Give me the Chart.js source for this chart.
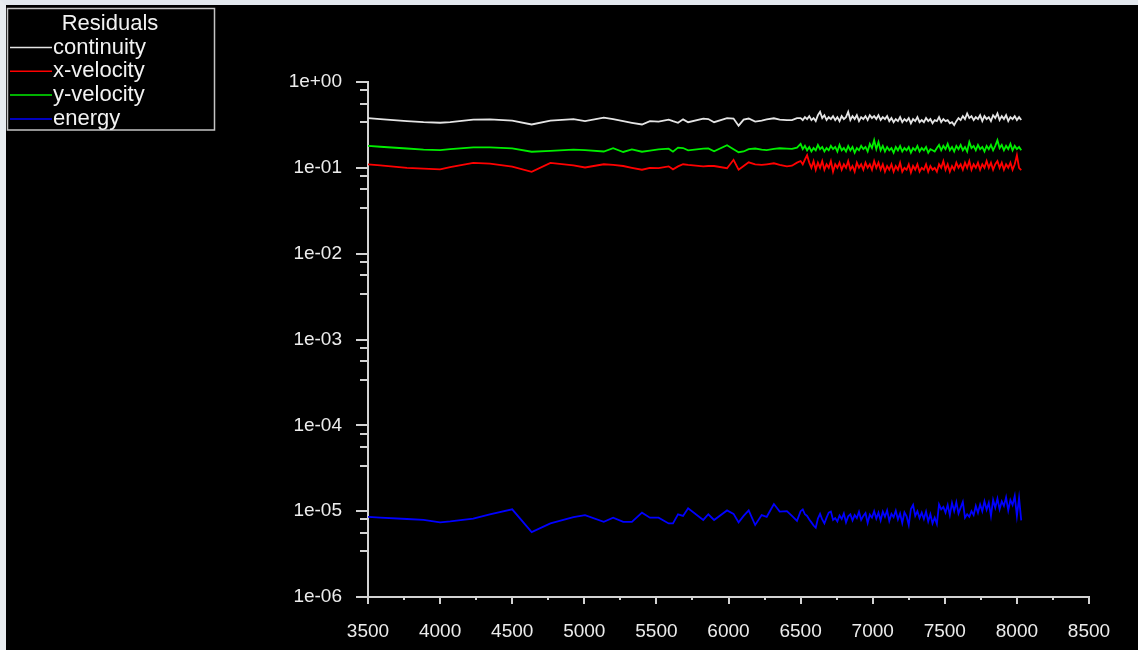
<!DOCTYPE html>
<html>
<head>
<meta charset="utf-8">
<script src="https://cdn.jsdelivr.net/npm/chart.js@4"></script>
<style>
  html, body { margin: 0; padding: 0; background: #000; }
  #frame {
    position: absolute; left: 0; top: 0;
    width: 1132px; height: 645px;
    border-top: 5px solid #e3e8ee;
    border-left: 6px solid #e8ecf0;
    background: #000;
  }
</style>
</head>
<body>
<div id="frame"><canvas id="residuals" width="1132" height="645"></canvas></div>
<script>
// iterations (shared by all residuals)
const iterations = [
  3500, 3585, 3770, 3885, 4000, 4070, 4230, 4345, 4500, 4635,
  4765, 4925, 5005, 5135, 5200, 5270, 5330, 5400, 5455, 5515,
  5585, 5615, 5650, 5685, 5720, 5825, 5860, 5900, 5990, 6035,
  6070, 6105, 6140, 6185, 6230, 6265, 6315, 6355, 6405, 6440,
  6475,
  6500, 6515, 6530, 6545, 6560, 6575, 6590, 6605, 6620, 6635,
  6650, 6665, 6680, 6695, 6710, 6725, 6740, 6755, 6770, 6785,
  6800, 6815, 6830, 6845, 6860, 6875, 6890, 6905, 6920, 6935,
  6950, 6965, 6980, 6995, 7010, 7025, 7040, 7055, 7070, 7085,
  7100, 7115, 7130, 7145, 7160, 7175, 7190, 7205, 7220, 7235,
  7250, 7265, 7280, 7295, 7310, 7325, 7340, 7355, 7370, 7385,
  7400, 7415, 7430, 7445, 7460, 7475, 7490, 7505, 7520, 7535,
  7550, 7565, 7580, 7595, 7610, 7625, 7640, 7655, 7670, 7685,
  7700, 7715, 7730, 7745, 7760, 7775, 7790, 7805, 7820, 7835,
  7850, 7865, 7880, 7895, 7910, 7925, 7940, 7955, 7970, 7985,
  8000, 8015, 8030
];

const continuity = [
  0.38, 0.37, 0.35, 0.34, 0.335, 0.34, 0.365, 0.367, 0.355, 0.32,
  0.355, 0.37, 0.35, 0.385, 0.37, 0.35, 0.335, 0.32, 0.35, 0.345,
  0.365, 0.35, 0.335, 0.367, 0.34, 0.375, 0.37, 0.34, 0.38, 0.375,
  0.31, 0.365, 0.375, 0.345, 0.355, 0.367, 0.378, 0.365, 0.36, 0.36,
  0.38,
  0.38, 0.36, 0.39, 0.37, 0.40, 0.36, 0.38, 0.35, 0.41, 0.45,
  0.38, 0.41, 0.36, 0.39, 0.37, 0.40, 0.36, 0.39, 0.35, 0.40,
  0.37, 0.39, 0.45, 0.36, 0.40, 0.37, 0.41, 0.35, 0.39, 0.37,
  0.40, 0.36, 0.41, 0.38, 0.40, 0.37, 0.41, 0.36, 0.39, 0.37,
  0.40, 0.35, 0.38, 0.34, 0.37, 0.35, 0.39, 0.34, 0.37, 0.35,
  0.38, 0.33, 0.37, 0.35, 0.39, 0.34, 0.36, 0.34, 0.38, 0.35,
  0.37, 0.33, 0.36, 0.35, 0.39, 0.34, 0.37, 0.35, 0.36, 0.33,
  0.34, 0.315, 0.35, 0.38, 0.36, 0.40, 0.37, 0.43, 0.38, 0.40,
  0.36, 0.39, 0.37, 0.41, 0.35, 0.40, 0.37, 0.39, 0.35, 0.41,
  0.38, 0.43, 0.36, 0.40, 0.37, 0.41, 0.35, 0.39, 0.37, 0.40,
  0.36, 0.39, 0.36
];

const xVelocity = [
  0.11, 0.107, 0.1, 0.098, 0.096, 0.102, 0.114, 0.112, 0.103, 0.09,
  0.114, 0.107, 0.101, 0.11, 0.108, 0.105, 0.1, 0.095, 0.1, 0.099,
  0.104, 0.096, 0.104, 0.11, 0.108, 0.104, 0.105, 0.105, 0.099, 0.124,
  0.095, 0.105, 0.116, 0.11, 0.108, 0.11, 0.113, 0.108, 0.104, 0.106,
  0.115,
  0.12, 0.11, 0.125, 0.14, 0.115, 0.10, 0.12, 0.095, 0.115, 0.10,
  0.12, 0.095, 0.11, 0.10, 0.12, 0.09, 0.11, 0.10, 0.115, 0.095,
  0.11, 0.10, 0.12, 0.095, 0.105, 0.09, 0.115, 0.10, 0.11, 0.095,
  0.115, 0.10, 0.11, 0.095, 0.12, 0.10, 0.115, 0.095, 0.11, 0.09,
  0.105, 0.095, 0.11, 0.09, 0.105, 0.095, 0.115, 0.09, 0.10, 0.095,
  0.11, 0.088, 0.105, 0.095, 0.11, 0.09, 0.10, 0.095, 0.11, 0.09,
  0.105, 0.095, 0.10, 0.09, 0.11, 0.10, 0.12, 0.095, 0.11, 0.09,
  0.105, 0.095, 0.115, 0.10, 0.11, 0.095, 0.115, 0.10, 0.12, 0.095,
  0.11, 0.10, 0.115, 0.095, 0.11, 0.10, 0.12, 0.10, 0.115, 0.095,
  0.11, 0.12, 0.10, 0.115, 0.095, 0.11, 0.10, 0.115, 0.095, 0.11,
  0.14, 0.10, 0.094
];

const yVelocity = [
  0.18, 0.176, 0.168, 0.163, 0.161, 0.165, 0.173, 0.173, 0.169, 0.154,
  0.158, 0.163, 0.161, 0.155, 0.169, 0.153, 0.164, 0.154, 0.159, 0.164,
  0.167, 0.154, 0.172, 0.17, 0.16, 0.167, 0.168, 0.156, 0.183, 0.165,
  0.152, 0.155, 0.165, 0.168, 0.163, 0.161, 0.166, 0.169, 0.167, 0.166,
  0.172,
  0.19, 0.165, 0.18, 0.16, 0.175, 0.155, 0.17, 0.16, 0.185, 0.165,
  0.175, 0.155, 0.17, 0.16, 0.18, 0.165, 0.175, 0.155, 0.185, 0.16,
  0.17, 0.155, 0.18, 0.16, 0.175, 0.15, 0.17, 0.16, 0.18, 0.165,
  0.175, 0.155, 0.19, 0.17, 0.21, 0.165, 0.20, 0.16, 0.18, 0.155,
  0.175, 0.16, 0.17, 0.15, 0.175, 0.16, 0.18, 0.155, 0.17, 0.16,
  0.175, 0.15, 0.17, 0.16, 0.18, 0.155, 0.17, 0.16, 0.175, 0.15,
  0.165, 0.16, 0.155, 0.17, 0.185, 0.16, 0.18, 0.165, 0.19, 0.16,
  0.175, 0.155, 0.18, 0.165, 0.185, 0.16, 0.175, 0.155, 0.20, 0.17,
  0.18, 0.16, 0.185, 0.165, 0.175, 0.155, 0.18, 0.165, 0.185, 0.16,
  0.18, 0.21, 0.17, 0.185, 0.16, 0.18, 0.165, 0.19, 0.16, 0.18,
  0.165, 0.175, 0.16
];

const energy = [
  8.6e-6, 8.4e-6, 8.1e-6, 7.9e-6, 7.4e-6, 7.6e-6, 8.2e-6, 9.2e-6, 1.05e-5, 5.7e-6,
  7.2e-6, 8.5e-6, 9.0e-6, 7.5e-6, 8.4e-6, 7.5e-6, 7.5e-6, 9.6e-6, 8.4e-6, 8.4e-6,
  7.2e-6, 7.2e-6, 9.2e-6, 8.8e-6, 1.08e-5, 7.9e-6, 9.2e-6, 7.9e-6, 1.02e-5, 9.3e-6,
  7.4e-6, 8.8e-6, 1.02e-5, 6.9e-6, 9.0e-6, 8.6e-6, 1.21e-5, 9.9e-6, 1.0e-5, 8.8e-6,
  7.7e-6,
  1.0e-5, 1.05e-5, 9.2e-6, 8.8e-6, 8.0e-6, 7.4e-6, 6.8e-6, 6.4e-6, 8.2e-6, 9.3e-6,
  8.0e-6, 7.2e-6, 8.4e-6, 9.6e-6, 9.9e-6, 7.9e-6, 8.3e-6, 7.6e-6, 8.9e-6, 8.1e-6,
  9.4e-6, 7.4e-6, 8.7e-6, 9.2e-6, 7.8e-6, 9.0e-6, 8.3e-6, 9.8e-6, 7.9e-6, 8.8e-6,
  9.5e-6, 7.3e-6, 9.1e-6, 8.4e-6, 1.0e-5, 8.2e-6, 9.6e-6, 7.8e-6, 9.9e-6, 8.6e-6,
  1.02e-5, 7.7e-6, 9.3e-6, 8.5e-6, 1.01e-5, 8.0e-6, 9.4e-6, 7.3e-6, 9.7e-6, 8.7e-6,
  6.9e-6, 1.06e-5, 1.18e-5, 8.8e-6, 1.0e-5, 8.3e-6, 9.6e-6, 8.1e-6, 9.9e-6, 7.6e-6,
  9.2e-6, 7.2e-6, 8.4e-6, 7.1e-6, 1.2e-5, 1.05e-5, 1.12e-5, 9.6e-6, 1.18e-5, 9.0e-6,
  1.25e-5, 1.0e-5, 1.27e-5, 9.4e-6, 1.1e-5, 1.28e-5, 8.4e-6, 9.2e-6, 8.6e-6, 1.0e-5,
  9.0e-6, 1.15e-5, 9.6e-6, 1.2e-5, 1.0e-5, 1.3e-5, 1.04e-5, 1.25e-5, 8.8e-6, 1.35e-5,
  1.1e-5, 1.4e-5, 1.05e-5, 1.3e-5, 1.15e-5, 1.45e-5, 1.02e-5, 1.35e-5, 1.18e-5, 1.5e-5,
  8.8e-6, 1.42e-5, 7.8e-6
];

const seriesNames = ['continuity', 'x-velocity', 'y-velocity', 'energy'];
const legendTitle = 'Residuals';

const yTicks = [1, 1e-1, 1e-2, 1e-3, 1e-4, 1e-5, 1e-6];
const yTickLabels = ['1e+00', '1e-01', '1e-02', '1e-03', '1e-04', '1e-05', '1e-06'];
const yMinorTicks = [
  0.8, 0.56, 0.34, 0.08, 0.056, 0.034, 0.008, 0.0056, 0.0034,
  8e-4, 5.6e-4, 3.4e-4, 8e-5, 5.6e-5, 3.4e-5, 8e-6, 5.6e-6, 3.4e-6
];
const xTicks = [3500, 4000, 4500, 5000, 5500, 6000, 6500, 7000, 7500, 8000, 8500];
const xMinorTicks = [3750, 4250, 4750, 5250, 5750, 6250, 6750, 7250, 7750, 8250];

const axisColor = '#d2d2d2';
const textColor = '#ececec';
const fontFamily = '"Liberation Sans", Arial, sans-serif';

function toPoints(values) {
  return values.map((v, i) => ({ x: iterations[i], y: v }));
}

// short ticks between the labelled ones
const minorTicks = {
  id: 'minorTicks',
  afterDraw(chart) {
    const { ctx, scales: { x, y } } = chart;
    ctx.save();
    ctx.strokeStyle = axisColor;
    ctx.lineWidth = 2;
    ctx.beginPath();
    yMinorTicks.forEach(v => {
      const py = Math.round(y.getPixelForValue(v));
      ctx.moveTo(y.right - 8, py);
      ctx.lineTo(y.right, py);
    });
    xMinorTicks.forEach(v => {
      const px = Math.round(x.getPixelForValue(v));
      ctx.moveTo(px, x.top);
      ctx.lineTo(px, x.top + 3);
    });
    ctx.stroke();
    ctx.restore();
  }
};

// boxed legend in the top-left corner
const residualLegend = {
  id: 'residualLegend',
  afterDraw(chart) {
    const ctx = chart.ctx;
    ctx.save();
    ctx.strokeStyle = '#c4c4c4';
    ctx.lineWidth = 1.5;
    ctx.strokeRect(1.5, 3.5, 207, 121.5);
    ctx.font = '22px ' + fontFamily;
    ctx.fillStyle = '#f2f2f2';
    ctx.textBaseline = 'middle';
    ctx.textAlign = 'center';
    ctx.fillText(legendTitle, 104, 18.5);
    ctx.textAlign = 'left';
    chart.data.datasets.forEach((ds, i) => {
      const cy = 42.5 + i * 23.8;
      ctx.strokeStyle = ds.borderColor;
      ctx.lineWidth = 1.5;
      ctx.beginPath();
      ctx.moveTo(4, cy);
      ctx.lineTo(46, cy);
      ctx.stroke();
      ctx.fillText(ds.label, 47, cy);
    });
    ctx.restore();
  }
};

const ctx = document.getElementById('residuals').getContext('2d');
const residualChart = new Chart(ctx, {
  type: 'line',
  data: {
    datasets: [
      { label: seriesNames[0], data: toPoints(continuity), borderColor: '#e4e4e4' },
      { label: seriesNames[1], data: toPoints(xVelocity), borderColor: '#ff0000' },
      { label: seriesNames[2], data: toPoints(yVelocity), borderColor: '#00ee00' },
      { label: seriesNames[3], data: toPoints(energy), borderColor: '#0000ff' }
    ]
  },
  options: {
    responsive: false,
    animation: false,
    events: [],
    elements: {
      point: { radius: 0 },
      line: { borderWidth: 1.8, tension: 0 }
    },
    layout: { padding: { top: 77, right: 49, left: 0, bottom: 0 } },
    plugins: {
      legend: { display: false },
      tooltip: { enabled: false }
    },
    scales: {
      x: {
        type: 'linear',
        min: 3500,
        max: 8500,
        afterBuildTicks: s => { s.ticks = xTicks.map(v => ({ value: v })); },
        afterFit: s => { s.height = 53; },
        ticks: {
          color: textColor,
          padding: 16,
          maxRotation: 0,
          autoSkip: false,
          font: { family: fontFamily, size: 19 },
          callback: v => String(v)
        },
        grid: { drawOnChartArea: false, tickLength: 7, color: axisColor, lineWidth: 2 },
        border: { color: axisColor, width: 2 }
      },
      y: {
        type: 'logarithmic',
        min: 1e-6,
        max: 1,
        afterBuildTicks: s => { s.ticks = yTicks.map(v => ({ value: v })); },
        afterFit: s => { s.width = 362; },
        ticks: {
          color: textColor,
          padding: 14,
          autoSkip: false,
          font: { family: fontFamily, size: 19 },
          callback: (v, i) => yTickLabels[i]
        },
        grid: { drawOnChartArea: false, tickLength: 12, color: axisColor, lineWidth: 2 },
        border: { color: axisColor, width: 2 }
      }
    }
  },
  plugins: [minorTicks, residualLegend]
});
</script>
</body>
</html>
